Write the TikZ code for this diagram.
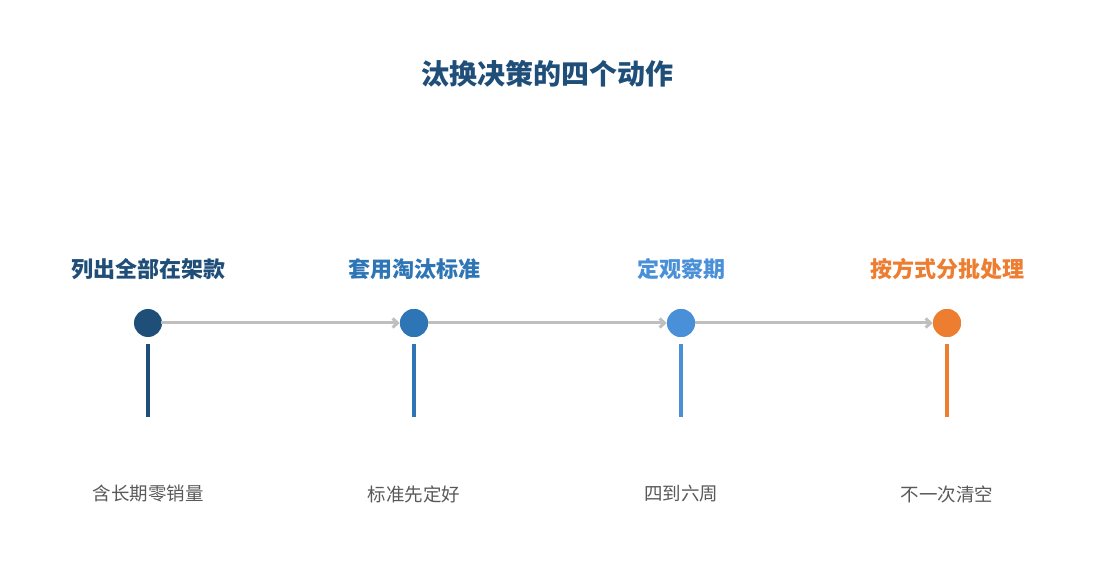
\documentclass[tikz,border=0pt]{standalone}
\usepackage{fontspec}
\newfontfamily\cjk{Noto Sans CJK SC}
\usepackage{tikz}
\usetikzlibrary{arrows.meta, positioning}
\definecolor{stepA}{HTML}{1F4E79}
\definecolor{stepB}{HTML}{2E75B6}
\definecolor{stepC}{HTML}{4A90D9}
\definecolor{stepD}{HTML}{ED7D31}
\definecolor{linkgray}{HTML}{BFBFBF}
\definecolor{notegray}{HTML}{595959}
\begin{document}
\begin{tikzpicture}[x=1pt, y=-1pt,
        dot/.style={circle, fill=#1, minimum size=28pt, inner sep=0pt},
        head/.style={font=\cjk\bfseries\fontsize{22}{24}\selectfont, text=#1},
        note/.style={font=\cjk\fontsize{18.5}{20}\selectfont, text=notegray},
        bar/.style={line width=4pt, draw=#1},
        link/.style={-{Straight Barb[length=5pt, width=9pt]}, line width=3pt, draw=linkgray, shorten <=-1pt}
    ]
    \useasboundingbox (0,0) rectangle (1095,585);
    \node (title) [font=\cjk\bfseries\fontsize{28}{30}\selectfont, text=stepA] at (547,74) {汰换决策的四个动作};

    \node (d1) [dot=stepA] at (148,323) {};
    \node (d2) [dot=stepB] at (414,323) {};
    \node (d3) [dot=stepC] at (681,323) {};
    \node (d4) [dot=stepD] at (947,323) {};

    \node (h1) [head=stepA] at (148,269) {列出全部在架款};
    \node (h2) [head=stepB] at (414,269) {套用淘汰标准};
    \node (h3) [head=stepC] at (681,269) {定观察期};
    \node (h4) [head=stepD] at (947,269) {按方式分批处理};

    \node (n1) [note] at (148,494) {含长期零销量};
    \node (n2) [note] at (414,494) {标准先定好};
    \node (n3) [note] at (681,494) {四到六周};
    \node (n4) [note] at (947,494) {不一次清空};

    % timeline links
    \draw[link] (d1) -- (d2);
    \draw[link] (d2) -- (d3);
    \draw[link] (d3) -- (d4);
    \node (d2) [dot=stepB] at (414,323) {};
    \node (d3) [dot=stepC] at (681,323) {};
    \node (d4) [dot=stepD] at (947,323) {};

    % stems
    \draw[bar=stepA] (148,344) -- (148,417);
    \draw[bar=stepB] (414,344) -- (414,417);
    \draw[bar=stepC] (681,344) -- (681,417);
    \draw[bar=stepD] (947,344) -- (947,417);
\end{tikzpicture}
\end{document}
